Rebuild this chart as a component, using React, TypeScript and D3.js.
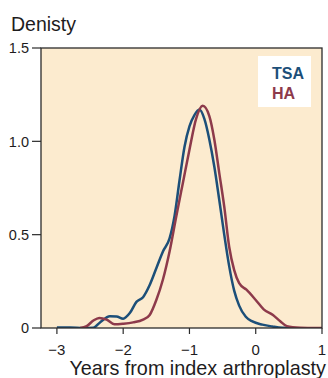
import React from 'react';
import * as d3 from 'd3';

// density estimates
const tsaX = [-3.0, -2.8, -2.6, -2.45, -2.35, -2.2, -2.1, -2.0, -1.9, -1.8, -1.7, -1.6, -1.5, -1.4, -1.3, -1.225, -1.15, -1.075, -1.0, -0.925, -0.85, -0.775, -0.7, -0.625, -0.55, -0.475, -0.4, -0.325, -0.25, -0.15, -0.05, 0.1, 0.25, 0.4, 0.55];
const tsaY = [0.003, 0.003, 0.0, 0.002, 0.03, 0.063, 0.062, 0.05, 0.08, 0.14, 0.165, 0.23, 0.32, 0.41, 0.48, 0.6, 0.79, 0.97, 1.08, 1.14, 1.17, 1.12, 1.01, 0.865, 0.686, 0.5, 0.33, 0.2, 0.12, 0.06, 0.035, 0.018, 0.008, 0.001, 0.0];

const haX = [-2.65, -2.55, -2.45, -2.36, -2.25, -2.13, -2.0, -1.85, -1.7, -1.6, -1.5, -1.4, -1.3, -1.2, -1.1, -1.0, -0.9, -0.8, -0.7, -0.625, -0.55, -0.475, -0.4, -0.325, -0.25, -0.14, 0.0, 0.12, 0.26, 0.37, 0.47, 0.67, 0.9, 1.0];
const haY = [0.0, 0.01, 0.04, 0.054, 0.045, 0.02, 0.023, 0.03, 0.045, 0.07, 0.15, 0.26, 0.41, 0.596, 0.776, 0.955, 1.12, 1.19, 1.135, 1.01, 0.83, 0.65, 0.434, 0.31, 0.24, 0.205, 0.15, 0.1, 0.07, 0.036, 0.01, 0.002, 0.0, 0.0];

const xTicks = [-3, -2, -1, 0, 1];
const xTickLabels = ['\u22123', '\u22122', '\u22121', '0', '1'];
const yTicks = [0, 0.5, 1.0, 1.5];
const yTickLabels = ['0', '0.5', '1.0', '1.5'];

const seriesNames = ['TSA', 'HA'];
const seriesColors = ['#1c4f79', '#8d3a4b'];

const W = 328, H = 378;
const margin = { top: 48, right: 6, bottom: 50, left: 41 };
const textColor = '#1e1c1d';
const font = '"Liberation Sans", Arial, Helvetica, sans-serif';

export default function App() {
    const innerW = W - margin.left - margin.right;
    const innerH = H - margin.top - margin.bottom;

    const x = d3.scaleLinear().domain([-3.24, 1]).range([0, innerW]);
    const y = d3.scaleLinear().domain([0, 1.5]).range([innerH, 0]);

    const line = d3.line<[number, number]>()
        .x(d => x(d[0]))
        .y(d => y(d[1]))
        .curve(d3.curveMonotoneX);

    const series = [
        tsaX.map((v, i) => [v, tsaY[i]] as [number, number]),
        haX.map((v, i) => [v, haY[i]] as [number, number]),
    ];

    return (
        <svg width={W} height={H} style={{ position: 'absolute', left: 0, top: 0, fontFamily: font }}>
            <text x={11} y={31} fontSize={19.5} fill={textColor}>Denisty</text>
            <g transform={`translate(${margin.left},${margin.top})`}>
                <rect x={0} y={0} width={innerW} height={innerH} fill="#fcebcf" />
                <clipPath id="plot-clip">
                    <rect x={0} y={0} width={innerW} height={innerH} />
                </clipPath>
                <g clipPath="url(#plot-clip)">
                    {series.map((s, i) => (
                        <path key={i} d={line(s) || ''} fill="none" stroke={seriesColors[i]} strokeWidth={2.5} strokeLinejoin="round" />
                    ))}
                </g>
                <rect x={0} y={0} width={innerW} height={innerH} fill="none" stroke="#2b2b2b" strokeWidth={1.3} />

                {/* y axis */}
                {yTicks.map((t, i) => (
                    <g key={t} transform={`translate(0,${y(t)})`}>
                        <line x1={-9} x2={0} stroke="#2b2b2b" strokeWidth={1.2} />
                        <text x={-12} dy="0.36em" textAnchor="end" fontSize={14.5} fill={textColor}>{yTickLabels[i]}</text>
                    </g>
                ))}

                {/* x axis */}
                {xTicks.map((t, i) => (
                    <g key={t} transform={`translate(${x(t)},${innerH})`}>
                        <line y1={0} y2={6} stroke="#2b2b2b" strokeWidth={1.2} />
                        <text y={27} textAnchor="middle" fontSize={15} fill={textColor}>{xTickLabels[i]}</text>
                    </g>
                ))}
                <text x={innerW + 4} y={innerH + 47} textAnchor="end" fontSize={19.8} fill={textColor}>Years from index arthroplasty</text>

                {/* legend */}
                <rect x={217} y={8} width={53} height={51} fill="#ffffff" />
                {seriesNames.map((n, i) => (
                    <text key={n} x={231} y={30.5 + i * 20} fontSize={16} fontWeight="bold" fill={seriesColors[i]}>{n}</text>
                ))}
            </g>
        </svg>
    );
}
